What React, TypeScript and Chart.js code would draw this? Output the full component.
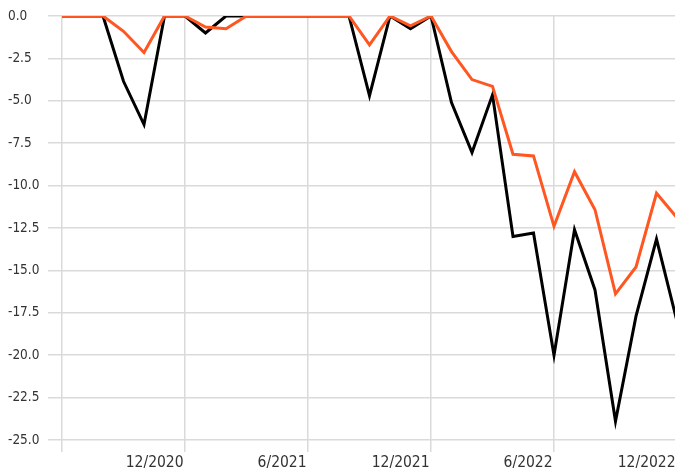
import React, { useEffect, useRef } from "react";
import { Chart, registerables } from "chart.js";

Chart.register(...registerables);

const months: string[] = [
  "6/2020", "7/2020", "8/2020", "9/2020", "10/2020", "11/2020", "12/2020",
  "1/2021", "2/2021", "3/2021", "4/2021", "5/2021", "6/2021",
  "7/2021", "8/2021", "9/2021", "10/2021", "11/2021", "12/2021",
  "1/2022", "2/2022", "3/2022", "4/2022", "5/2022", "6/2022",
  "7/2022", "8/2022", "9/2022", "10/2022", "11/2022", "12/2022",
];

const shownTickLabels: string[] = ["12/2020", "6/2021", "12/2021", "6/2022", "12/2022"];

const blackSeries: number[] = [
  0, 0, 0, -3.85, -6.4, 0, 0,
  -1.0, 0, 0, 0, 0, 0,
  0, 0, -4.7, 0, -0.75, 0,
  -5.1, -8.05, -4.65, -13.0, -12.8, -20.0,
  -12.6, -16.15, -23.9, -17.7, -13.15, -18.0,
];

const orangeSeries: number[] = [
  0, 0, 0, -0.9, -2.15, 0, 0,
  -0.65, -0.75, 0, 0, 0, 0,
  0, 0, -1.7, 0, -0.58, 0,
  -2.1, -3.75, -4.15, -8.15, -8.25, -12.4,
  -9.18, -11.42, -16.38, -14.8, -10.45, -11.9,
];

const yMin = -25;
const yMax = 0;
const yStep = 2.5;

export default function App() {
  const ref = useRef<HTMLCanvasElement | null>(null);

  useEffect(() => {
    document.body.style.margin = "0";
    document.body.style.overflow = "hidden";
    document.documentElement.style.overflow = "hidden";
    const canvas = ref.current;
    if (!canvas) return;
    const font = "'DejaVu Sans Condensed', 'DejaVu Sans', sans-serif";
    const chart = new Chart(canvas, {
      type: "line",
      data: {
        labels: months,
        datasets: [
          {
            label: "Benchmark",
            data: orangeSeries,
            borderColor: "#ff5722",
            backgroundColor: "#ff5722",
            borderWidth: 3,
            pointRadius: 0,
            tension: 0,
          },
          {
            label: "Portfolio",
            data: blackSeries,
            borderColor: "#000000",
            backgroundColor: "#000000",
            borderWidth: 3,
            pointRadius: 0,
            tension: 0,
          },
        ],
      },
      options: {
        animation: false,
        responsive: false,
        layout: { padding: { left: 8, top: 16, right: 3, bottom: 0 } },
        plugins: { legend: { display: false }, tooltip: { enabled: false } },
        scales: {
          x: {
            type: "category",
            offset: false,
            border: { display: false },
            grid: {
              color: (ctx: any) => (ctx.index % 6 === 0 ? "#dadada" : "rgba(0,0,0,0)"),
              lineWidth: 1.5,
              tickLength: 12,
              drawOnChartArea: true,
            },
            ticks: {
              autoSkip: false,
              maxRotation: 0,
              minRotation: 0,
              align: "end",
              padding: 2,
              color: "#333",
              font: { family: font, size: 15.5 },
              callback: (_v: any, i: number) => {
                const l = months[i];
                return i > 0 && shownTickLabels.includes(l) ? l + "\u200A" : "";
              },
            },
            afterFit: (scale: any) => {
              scale.height = 29;
            },
          },
          y: {
            min: yMin,
            max: yMax,
            border: { display: false },
            grid: { color: "#dadada", lineWidth: 1.5, tickLength: 14 },
            ticks: {
              stepSize: yStep,
              crossAlign: "far",
              color: "#333",
              font: { family: font, size: 13.5 },
              callback: (v: any) => Number(v).toFixed(1),
            },
            afterFit: (scale: any) => {
              scale.width = 54;
            },
          },
        },
      },
    });
    return () => chart.destroy();
  }, []);

  return (
    <div style={{ width: 680, height: 469 }}>
      <canvas ref={ref} width={680} height={469} style={{ display: "block" }} />
    </div>
  );
}
